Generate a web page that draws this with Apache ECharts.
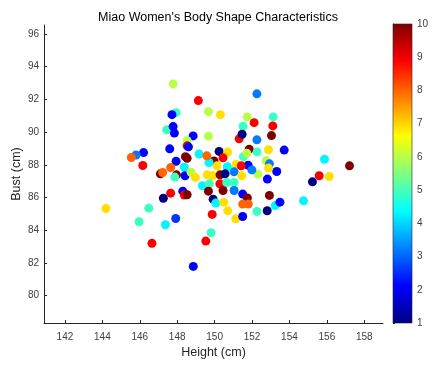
<!DOCTYPE html>
<html>
<head>
<meta charset="utf-8">
<title>Miao Women's Body Shape Characteristics</title>
<script src="https://cdn.jsdelivr.net/npm/echarts@6/dist/echarts.min.js"></script>
<style>
html,body{margin:0;padding:0;background:#fff;}
#main{width:442px;height:369px;}
</style>
</head>
<body>
<div id="main"></div>
<script>
// height (cm), bust (cm) and colour value of each woman
var heights = [
    147.78,149.13,149.67,150.31,147.94,147.72,147.44,147.78,147.85,148.85,
    149.67,148.53,148.53,148.60,147.60,146.20,145.80,145.55,150.24,150.70,
    149.17,148.44,148.53,147.94,149.97,150.45,149.70,146.16,147.65,150.13,
    148.38,150.68,147.10,147.22,147.96,147.87,148.42,148.74,148.97,149.60,
    149.88,150.29,150.56,150.28,150.65,149.35,149.72,148.30,147.65,148.38,
    148.53,149.67,150.45,147.26,149.92,150.06,150.49,150.70,144.19,146.48,
    145.96,147.37,147.92,149.87,149.81,149.53,146.65,148.86,152.26,151.74,
    153.13,151.52,152.11,153.11,151.31,151.47,153.04,152.26,151.85,151.54,
    151.72,152.27,152.88,153.72,152.75,152.93,155.87,157.21,151.15,151.79,
    151.42,153.32,152.31,151.99,151.04,151.45,151.04,151.04,152.82,155.59,
    156.13,155.23,151.50,151.75,152.93,151.50,151.80,153.24,153.49,154.75,
    152.26,152.81,151.13,151.50,149.58,152.88
];
var busts = [
    92.95,91.93,91.25,91.07,91.19,91.07,90.14,90.34,89.94,89.77,
    89.75,89.47,89.16,89.10,88.98,88.75,88.60,88.45,88.82,88.78,
    88.66,88.50,88.40,88.22,88.24,88.43,88.14,87.96,87.83,87.94,
    87.85,87.89,87.45,87.53,87.39,87.25,87.33,87.55,87.23,87.39,
    87.33,87.39,87.45,86.84,86.92,86.72,86.84,86.39,86.27,86.15,
    86.17,86.39,86.43,85.96,85.90,85.66,85.72,85.19,85.33,85.35,
    84.52,84.34,84.72,84.97,83.85,83.34,83.20,81.79,92.34,90.93,
    90.93,90.36,90.58,90.38,89.59,89.87,89.79,89.53,88.96,88.50,
    88.71,88.79,88.92,88.90,88.26,88.06,88.34,87.94,88.02,87.98,
    87.94,87.59,87.43,87.69,87.57,87.33,86.92,86.43,87.13,87.33,
    87.29,86.96,86.21,85.97,86.13,85.60,85.60,85.51,85.72,85.80,
    85.15,85.19,84.70,84.84,88.55,87.80
];
var shapeValues = [
    6.0,8.9,6.0,6.9,4.9,2.1,4.9,2.1,2.1,2.1,
    6.0,6.0,8.9,2.1,2.1,2.1,3.2,8.0,1.0,6.9,
    4.3,10,10,2.1,10,8.9,4.3,8.9,8.0,6.9,
    4.3,4.3,10,8.0,10,4.9,2.1,6.0,6.9,6.9,
    6.9,10,1.0,8.9,4.9,4.3,4.9,2.1,8.9,8.9,
    10,10,10,1.0,1.0,4.3,6.9,6.9,6.9,4.9,
    4.9,4.3,2.6,8.9,4.9,8.9,8.9,2.1,3.2,6.0,
    4.9,4.9,8.9,8.9,8.9,1.0,10,3.2,10,4.9,
    6.0,4.9,6.9,2.1,6.0,3.2,4.3,10,6.9,2.1,
    8.9,2.1,6.0,3.2,3.2,6.9,4.9,3.2,2.1,8.9,
    6.9,1.0,2.1,10,10,8.0,8.0,4.3,2.1,4.3,
    4.9,1.0,6.9,2.1,8.0,6.9
];
var xTicks = [142,144,146,148,150,152,154,156,158];
var yTicks = [80,82,84,86,88,90,92,94,96];
var barTicks = [1,2,3,4,5,6,7,8,9,10];

var jet = ['#000080','#0000ff','#0080ff','#00ffff','#80ff80','#ffff00','#ff8000','#ff0000','#800000'];

var points = [];
for (var i = 0; i < heights.length; i++) {
    points.push([heights[i], busts[i], shapeValues[i]]);
}

var axisGray = '#262626';
var labelGray = '#404040';
var font = 'Liberation Sans, Arial, sans-serif';

var chart = echarts.init(document.getElementById('main'), null, {renderer: 'canvas'});

var jetStops = jet.map(function (c, k) {
    return {offset: 1 - k / (jet.length - 1), color: c};
});

var option = {
    backgroundColor: '#fff',
    animation: false,
    title: {
        text: "Miao Women's Body Shape Characteristics",
        left: 213, top: 6, textAlign: 'center',
        textStyle: {fontFamily: font, fontSize: 12.5, fontWeight: 'normal', color: '#000'}
    },
    grid: [
        {left: 44, right: 59, top: 25, bottom: 46, outerBoundsMode: 'none', containLabel: false},
        {left: 393, width: 19, top: 24, bottom: 46, outerBoundsMode: 'none', containLabel: false}
    ],
    xAxis: [{
        type: 'value', gridIndex: 0, min: 140.88, max: 159,
        name: 'Height (cm)', nameLocation: 'middle', nameGap: 23, nameMoveOverlap: false,
        nameTextStyle: {fontFamily: font, fontSize: 12.5, color: axisGray},
        axisLine: {lineStyle: {color: axisGray}},
        axisTick: {inside: true, length: 3, lineStyle: {color: axisGray},
            customValues: xTicks},
        axisLabel: {fontFamily: font, fontSize: 10, color: labelGray, margin: 9,
            customValues: xTicks},
        splitLine: {show: false}
    }, {
        type: 'value', gridIndex: 1, min: 0, max: 1, show: false
    }],
    yAxis: [{
        type: 'value', gridIndex: 0, min: 78.33, max: 96.55,
        name: 'Bust (cm)', nameLocation: 'middle', nameGap: 21, nameMoveOverlap: false,
        nameTextStyle: {fontFamily: font, fontSize: 12.5, color: axisGray},
        axisLine: {show: true, lineStyle: {color: axisGray}},
        axisTick: {show: true, inside: true, length: 3, lineStyle: {color: axisGray},
            customValues: yTicks},
        axisLabel: {fontFamily: font, fontSize: 10, color: labelGray, margin: 5,
            customValues: yTicks},
        splitLine: {show: false}
    }, {
        type: 'value', gridIndex: 1, min: 1, max: 10, position: 'right',
        axisLine: {show: true, lineStyle: {color: axisGray}},
        axisTick: {show: true, length: 2, lineStyle: {color: axisGray},
            customValues: barTicks},
        axisLabel: {fontFamily: font, fontSize: 10, color: labelGray, margin: 5,
            customValues: barTicks},
        splitLine: {show: false}
    }],
    visualMap: {
        show: false, type: 'continuous', seriesIndex: 0, dimension: 2,
        min: 1, max: 10, inRange: {color: jet}
    },
    series: [{
        type: 'scatter', xAxisIndex: 0, yAxisIndex: 0,
        symbolSize: 9, data: points,
        itemStyle: {opacity: 1}
    }, {
        // colour bar
        type: 'custom', xAxisIndex: 1, yAxisIndex: 1, silent: true,
        data: [[0, 1]],
        renderItem: function (params, api) {
            var p0 = api.coord([0, 10]);
            var p1 = api.coord([1, 1]);
            return {
                type: 'rect',
                shape: {x: p0[0], y: p0[1], width: p1[0] - p0[0], height: p1[1] - p0[1]},
                style: {
                    fill: new echarts.graphic.LinearGradient(0, 0, 0, 1, jetStops),
                    stroke: axisGray, lineWidth: 0.6
                }
            };
        }
    }]
};
chart.setOption(option);
</script>
</body>
</html>
